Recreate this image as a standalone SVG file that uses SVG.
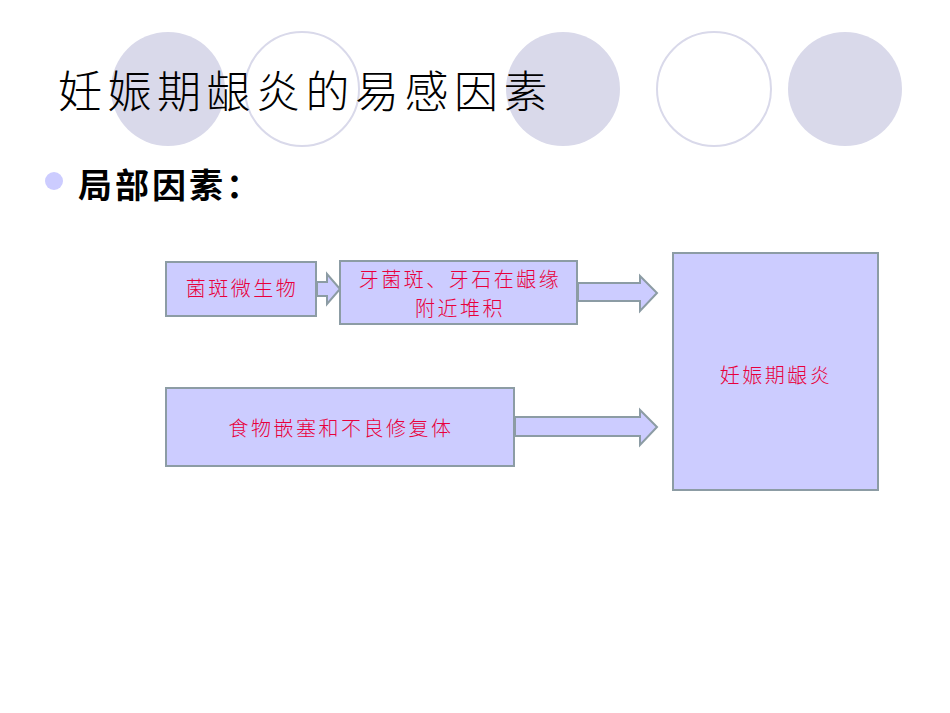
<svg xmlns="http://www.w3.org/2000/svg" width="950" height="713" viewBox="0 0 950 713">
<style>
.cf{fill:#d9d9ea}.co{fill:#fff;stroke:#d9d9ea;stroke-width:2}
.box{fill:#ccccff;stroke:#8c9ca4;stroke-width:2}
.ar{fill:#ccccff;stroke:#8c9ca4;stroke-width:2}
.t{font-family:"Liberation Serif","Noto Sans CJK SC",serif;font-size:20px;letter-spacing:2.5px;fill:#e8003c;text-anchor:middle;font-weight:300}
</style>
<rect width="950" height="713" fill="#fff"/>
<circle class="cf" cx="168" cy="89" r="57"/>
<circle class="co" cx="302" cy="89" r="57"/>
<circle class="cf" cx="563" cy="89" r="57"/>
<circle class="co" cx="714" cy="89" r="57"/>
<circle class="cf" cx="845" cy="89" r="57"/>
<text x="58" y="108" font-family="Liberation Serif,'Noto Sans CJK SC',serif" font-size="44" font-weight="300" letter-spacing="5.5" fill="#000">妊娠期龈炎的易感因素</text>
<circle cx="54" cy="181" r="9" fill="#ccccff"/>
<text x="78" y="198" font-family="'Noto Sans CJK SC',sans-serif" font-size="34" font-weight="bold" letter-spacing="3" fill="#000">局部因素：</text>
<g id="connectors">
<polygon class="ar" points="317,282 327,282 327,274 340,289 327,304 327,296 317,296"/>
<polygon class="ar" points="578,283 640,283 640,276 657,293 640,311 640,301 578,301"/>
<polygon class="ar" points="515,417 640,417 640,410 657,427 640,445 640,436 515,436"/>
</g>
<g id="n1"><rect class="box" x="166" y="262" width="150" height="54"/><text class="t" x="242" y="296">菌斑微生物</text></g>
<g id="n2"><rect class="box" x="340" y="261" width="237" height="63"/><text class="t" x="460" y="287">牙菌斑、牙石在龈缘</text><text class="t" x="460" y="316">附近堆积</text></g>
<g id="n3"><rect class="box" x="166" y="388" width="348" height="78"/><text class="t" x="341" y="436">食物嵌塞和不良修复体</text></g>
<g id="n4"><rect class="box" x="673" y="253" width="205" height="237"/><text class="t" x="776" y="383">妊娠期龈炎</text></g>
</svg>
